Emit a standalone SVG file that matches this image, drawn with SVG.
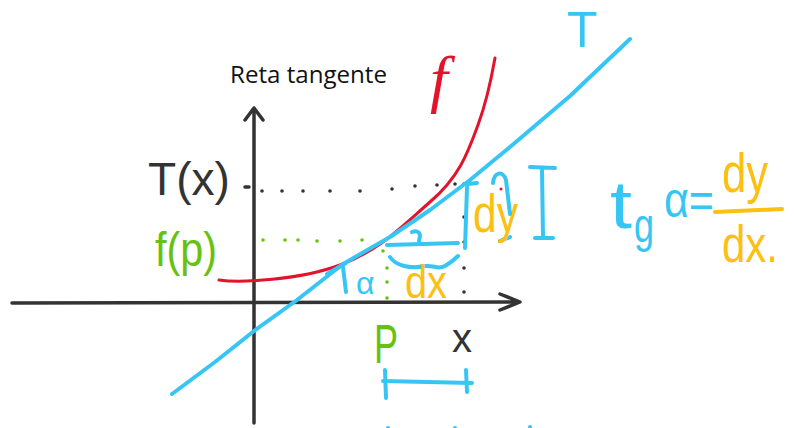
<svg xmlns="http://www.w3.org/2000/svg" width="794" height="428" viewBox="0 0 794 428">
<style>
.ax{fill:none;stroke:#333;stroke-width:3.5;stroke-linecap:round;stroke-linejoin:round}
.cy{fill:none;stroke:#37c6f4;stroke-width:4;stroke-linecap:round;stroke-linejoin:round}
.rd{fill:none;stroke:#e3132c;stroke-width:3;stroke-linecap:round}
.og{fill:none;stroke:#fcbf12;stroke-width:4;stroke-linecap:round}
.bd{fill:#333}
.gd{fill:#66c20c}
.hw{font-family:"Liberation Sans",Arial,sans-serif}
.tcy{fill:#37c6f4}.tog{fill:#fcbf12}.tgr{fill:#66c20c}.tbk{fill:#333}
</style>
<rect width="794" height="428" fill="#fff"/>
<g id="axes">
<path class="ax" d="M12,303 L520,302 M500,294 L520,302 L500,310"/>
<path class="ax" d="M254,423 L254,108 M245,120 L254,108 L263,120"/>
<path class="ax" d="M245,187 L249,187" stroke-width="2.5"/>
</g>
<text x="230" y="83" font-family="'Open Sans','Liberation Sans',sans-serif" font-size="23.5" textLength="157" lengthAdjust="spacingAndGlyphs" fill="#111">Reta tangente</text>
<g id="guides">
<g class="bd">
<circle cx="262" cy="191" r="1.8"/><circle cx="282" cy="191" r="1.8"/><circle cx="303" cy="191" r="1.8"/><circle cx="330" cy="191" r="1.8"/><circle cx="360" cy="191" r="1.8"/><circle cx="392" cy="189" r="1.8"/><circle cx="415" cy="186" r="1.8"/><circle cx="437" cy="185" r="1.8"/><circle cx="455" cy="184" r="1.8"/><circle cx="464" cy="184" r="1.8"/><circle cx="470" cy="183" r="1.8"/>
<circle cx="464" cy="217" r="1.8"/><circle cx="464" cy="242" r="1.8"/><circle cx="464" cy="268" r="1.8"/><circle cx="464" cy="292" r="1.8"/>
</g>
<g class="gd">
<circle cx="263" cy="240" r="1.8"/><circle cx="285" cy="240" r="1.8"/><circle cx="298" cy="240" r="1.8"/><circle cx="317" cy="241" r="1.8"/><circle cx="340" cy="241" r="1.8"/><circle cx="362" cy="240" r="1.8"/>
<circle cx="383" cy="251" r="1.8"/><circle cx="387" cy="268" r="1.8"/><circle cx="387" cy="282" r="1.8"/><circle cx="387" cy="298" r="1.8"/>
</g>
</g>
<g id="curve-f">
<path class="rd" d="M219,280 C240,283 300,280 340,265 S400,228 430,202 S468,152 478,125 S492,75 495,58"/>
<circle cx="501" cy="189" r="1.5" fill="#e3132c"/>
<text x="430" y="100" font-family="'Liberation Serif',serif" font-style="italic" font-size="64" fill="#e3132c">f</text>
</g>
<g id="tangent">
<path class="cy" d="M172,394 L215,362 L254,331 L297,300 L343,264 L390,237 L430,210 L470,180 L510,147 L570,96 L630,39"/>
<text class="hw tcy" x="567" y="47" font-size="50">T</text>
</g>
<g id="labels">
<text class="hw tbk" x="148" y="195" font-size="46" textLength="82" lengthAdjust="spacingAndGlyphs">T(x)</text>
<text class="hw tgr" x="155" y="266" font-size="48" textLength="62" lengthAdjust="spacingAndGlyphs">f(p)</text>
<text class="hw tgr" x="374" y="363" font-size="56" textLength="24" lengthAdjust="spacingAndGlyphs">P</text>
<text class="hw tbk" x="452" y="352" font-size="40">x</text>
</g>
<g id="increments">
<path class="cy" d="M387,245 L458,243"/>
<path class="cy" d="M412,232 C416,230 420,232 420,236 L419,241" stroke-width="3"/>
<path class="cy" d="M390,257 C396,266 410,269 425,266 C434,265 438,270 445,266 C450,263 455,259 458,256"/>
<path class="cy" d="M477,183 L468,184 M467,187 L465,248"/>
<path class="cy" d="M493,183 C494,172 503,170 506,180 L510,214 M500,241 L510,237"/>
<path class="cy" d="M327,274 L346,263 M343,267 L346,292"/>
<text class="hw tcy" x="356" y="294" font-size="32">α</text>
<text class="hw tog" x="405" y="298" font-size="46" textLength="42" lengthAdjust="spacingAndGlyphs">dx</text>
<text class="hw tog" x="473" y="232" font-size="54" textLength="45" lengthAdjust="spacingAndGlyphs">dy</text>
<path class="cy" d="M530,167 L555,168 M542,170 L543,237 M535,238 L553,238" stroke-width="7"/>
<path class="cy" d="M385,370 L386,398 M466,370 L467,392"/>
<path class="cy" d="M383,381 L472,383" stroke-width="6"/>
<g class="tcy"><circle cx="388" cy="428" r="2"/><circle cx="455" cy="428" r="2"/><circle cx="530" cy="427" r="2"/></g>
</g>
<g id="formula">
<text class="hw tcy" x="610" y="228" font-size="66" textLength="22" lengthAdjust="spacingAndGlyphs">t</text>
<text class="hw tcy" x="634" y="242" font-size="48" textLength="20" lengthAdjust="spacingAndGlyphs">g</text>
<text class="hw tcy" x="664" y="217" font-size="50" textLength="50" lengthAdjust="spacingAndGlyphs">α=</text>
<path class="og" d="M715,212 L782,209"/>
<text class="hw tog" x="722" y="192" font-size="56" textLength="46" lengthAdjust="spacingAndGlyphs">dy</text>
<text class="hw tog" x="722" y="262" font-size="52" textLength="56" lengthAdjust="spacingAndGlyphs">dx.</text>
</g>
</svg>
